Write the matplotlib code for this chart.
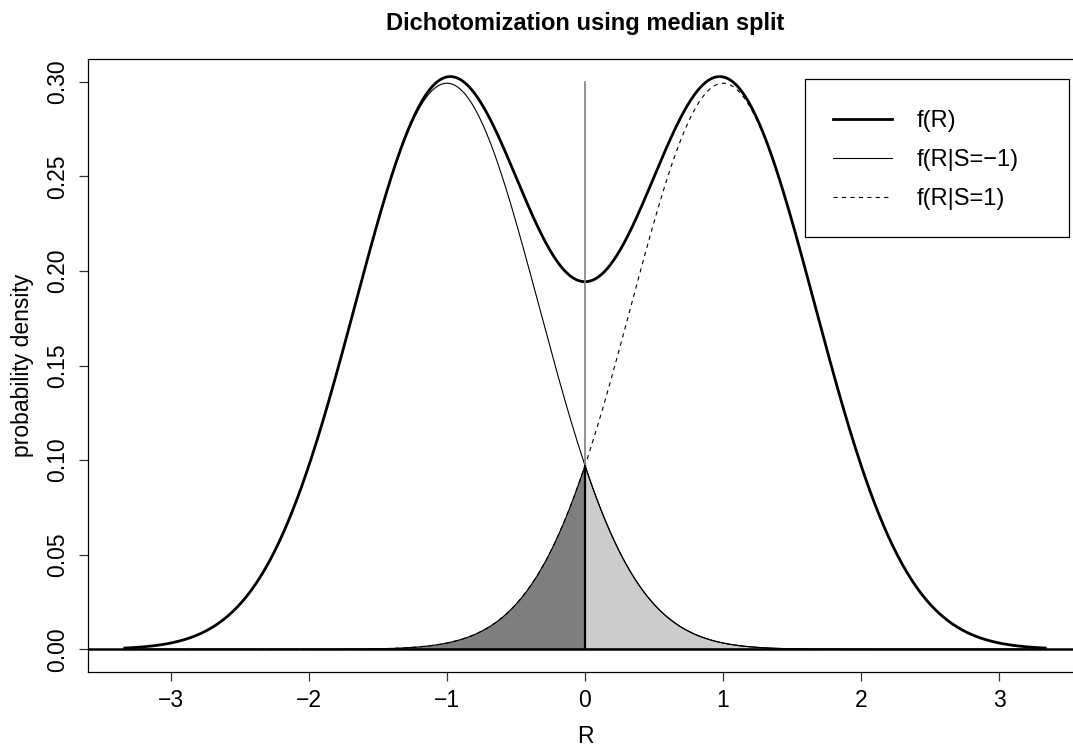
import numpy as np
import matplotlib
matplotlib.use("Agg")
import matplotlib.pyplot as plt
from matplotlib.patches import Rectangle

plt.rcParams['font.family'] = ['Liberation Sans', 'DejaVu Sans']

# mixture of two normal components, one for each class S
class_labels = ['f(R|S=\u22121)', 'f(R|S=1)']
class_means = [-1.0, 1.0]
class_weights = [0.5, 0.5]
class_sd = 2 / 3
r_range = [-10 / 3, 10 / 3]
median_split = 0.0

x_ticks = [-3, -2, -1, 0, 1, 2, 3]
y_ticks = [0.00, 0.05, 0.10, 0.15, 0.20, 0.25, 0.30]


def norm_pdf(x, mu, sd):
    return np.exp(-0.5 * ((x - mu) / sd) ** 2) / (sd * np.sqrt(2 * np.pi))


R = np.linspace(r_range[0], r_range[1], 801)
comp_neg = class_weights[0] * norm_pdf(R, class_means[0], class_sd)
comp_pos = class_weights[1] * norm_pdf(R, class_means[1], class_sd)
total = comp_neg + comp_pos

W, H = 1073, 746
fig = plt.figure(figsize=(W / 100, H / 100), dpi=100)
ax = fig.add_axes([88 / W, 1 - 672 / H, (1082 - 88) / W, (672 - 59) / H])

ax.plot(R, total, color='black', lw=2)
ax.plot(R, comp_neg, color='black', lw=0.8)
ax.plot(R, comp_pos, color='black', lw=0.8, ls=(0, (3.8, 3.8)))

# vertical line at the split
ax.plot([median_split, median_split], [0, y_ticks[-1]], color='#7f7f7f', lw=1.2)

# misclassified areas
left = R <= median_split
right = R >= median_split
xl = np.concatenate([R[left], [median_split, median_split]])
yl = np.concatenate([comp_pos[left], [norm_pdf(median_split, class_means[1], class_sd) * class_weights[1], 0]])
xl = np.concatenate([xl, [R[left][0]]])
yl = np.concatenate([yl, [0]])
ax.fill(xl, yl, facecolor='#7f7f7f', edgecolor='black', lw=0.8)
xr = np.concatenate([[median_split], R[right], [R[right][-1], median_split]])
yr = np.concatenate([[0], comp_neg[right], [0, 0]])
ax.fill(xr, yr, facecolor='#cccccc', edgecolor='black', lw=0.8)
ax.plot([median_split, median_split], [0, class_weights[0] * norm_pdf(median_split, class_means[0], class_sd)],
        color='black', lw=1.6)

ax.axhline(0, color='black', lw=1.8)

ax.set_xlim(-3.6, 3.6)
ax.set_ylim(-0.012, 0.312)
ax.set_xticks(x_ticks)
ax.set_xticklabels([f'{t:d}'.replace('-', '\u2212') for t in x_ticks])
ax.set_yticks(y_ticks)
ax.set_yticklabels([f'{t:.2f}' for t in y_ticks], rotation=90, va='center')
ax.tick_params(axis='both', length=6.5, width=0.9, labelsize=16.5, color='#333333')
ax.tick_params(axis='x', pad=6)
ax.tick_params(axis='y', pad=7)
for s in ax.spines.values():
    s.set_linewidth(0.9)

ax.set_xlabel('R', fontsize=16.5, labelpad=9)
ax.set_ylabel('probability density', fontsize=16.5, labelpad=8.5)
ax.set_title('Dichotomization using median split', fontsize=17, fontweight='bold', pad=21)

# legend
h1, = ax.plot([], [], color='black', lw=2)
h2, = ax.plot([], [], color='black', lw=0.8)
h3, = ax.plot([], [], color='black', lw=0.8, ls=(0, (3.8, 3.8)))
leg = ax.legend([h1, h2, h3], ['f(R)'] + class_labels, loc='upper left',
                bbox_to_anchor=(833 / W, 1 - 110 / H), bbox_transform=fig.transFigure,
                frameon=False, fontsize=17, handlelength=2.5, handletextpad=1.05,
                labelspacing=0.72, borderpad=0, borderaxespad=0)
fig.patches.append(Rectangle((805 / W, 1 - 237 / H), (1069 - 805) / W, (237 - 79) / H,
                             transform=fig.transFigure, fill=False, edgecolor='black', lw=0.9))

fig.savefig('out.png', dpi=100)
